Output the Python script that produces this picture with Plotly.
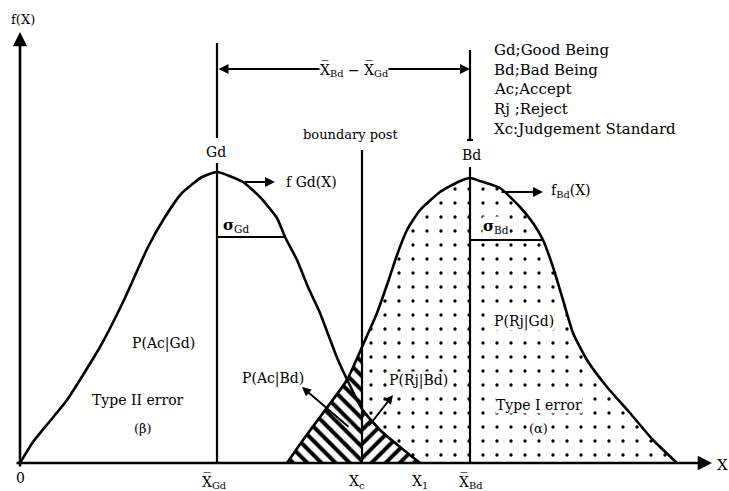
import plotly.graph_objects as go

# Key positions on the X axis
x_gd_mean = 19.7   # mean of the good population
x_bd_mean = 45.0   # mean of the bad population
x_c = 34.2         # judgement standard (boundary post)
x_1 = 40.0

# Density curve of the good population f_Gd(X)
gd_x = [0, 1.3, 3.0, 4.7, 8.0, 10.4, 12.8, 14.5, 16.2, 18.2, 19.7, 22.3, 24.0,
        25.7, 26.5, 27.7, 28.8, 30.0, 31.8, 34.2, 36.0, 38.0, 40.0]
gd_f = [0, 0.21, 0.42, 0.63, 1.16, 1.63, 2.16, 2.46, 2.70, 2.86, 2.91, 2.81, 2.66,
        2.45, 2.26, 2.03, 1.76, 1.50, 1.03, 0.54, 0.33, 0.16, 0]

# Density curve of the bad population f_Bd(X)
bd_x = [26.7, 28.3, 30.3, 32.7, 34.2, 35.7, 36.8, 37.7, 38.7, 40.0, 42.0, 43.8, 45.0,
        46.0, 48.0, 50.0, 51.3, 52.3, 53.3, 54.3, 55.3, 56.7, 58.7, 61.0, 63.3, 65.7]
bd_f = [0, 0.23, 0.50, 0.83, 1.16, 1.50, 1.81, 2.08, 2.33, 2.53, 2.71, 2.81, 2.85,
        2.82, 2.75, 2.56, 2.40, 2.23, 1.96, 1.63, 1.30, 1.03, 0.76, 0.50, 0.23, 0]

# Standard deviations (drawn as horizontal bars from each mean)
sigma_gd = 6.8
sigma_bd = 7.3

FONT = "DejaVu Serif"
INK = "black"
SMOOTH = 0.5


def part(xs, ys, keep):
    pts = [(a, b) for a, b in zip(xs, ys) if keep(a)]
    return [p[0] for p in pts], [p[1] for p in pts]


bd_rx, bd_rf = part(bd_x, bd_f, lambda v: v >= x_c)
bd_lx, bd_lf = part(bd_x, bd_f, lambda v: v <= x_c)
gd_rx, gd_rf = part(gd_x, gd_f, lambda v: v >= x_c)

fig = go.Figure()


def filled(xs, ys, shape, size, solidity):
    fig.add_trace(go.Scatter(
        x=xs, y=ys, mode="lines",
        line=dict(width=0, shape="spline", smoothing=SMOOTH),
        fill="tozeroy", fillcolor="white",
        fillpattern=dict(shape=shape, fgcolor=INK, fgopacity=1, bgcolor="white",
                         fillmode="replace", size=size, solidity=solidity),
        hoverinfo="skip", showlegend=False))


# Stippled area: bad population rejected
filled(bd_rx, bd_rf, ".", 14, 0.045)
# Hatched overlap: left of Xc under f_Bd, right of Xc under f_Gd
filled(bd_lx, bd_lf, "\\", 10, 0.4)
filled(gd_rx, gd_rf, "/", 10, 0.4)

# The two density curves
for xs, ys in ((gd_x, gd_f), (bd_x, bd_f)):
    fig.add_trace(go.Scatter(
        x=xs, y=ys, mode="lines",
        line=dict(color=INK, width=2.6, shape="spline", smoothing=SMOOTH),
        hoverinfo="skip", showlegend=False))

gd_sig_f = gd_f[gd_x.index(round(x_gd_mean + sigma_gd, 1))]
bd_sig_f = bd_f[bd_x.index(round(x_bd_mean + sigma_bd, 1))]

dim_y = 3.94
shapes = [
    # mean lines, below and above the curve labels
    dict(x0=x_gd_mean, x1=x_gd_mean, y0=0, y1=3.0),
    dict(x0=x_gd_mean, x1=x_gd_mean, y0=3.25, y1=4.20),
    dict(x0=x_bd_mean, x1=x_bd_mean, y0=0, y1=2.96),
    dict(x0=x_bd_mean, x1=x_bd_mean, y0=3.23, y1=4.13),
    dict(x0=x_bd_mean - 0.3, x1=x_bd_mean + 0.3, y0=3.23, y1=3.23),
    # boundary post at Xc
    dict(x0=x_c, x1=x_c, y0=0, y1=3.13),
    # sigma bars
    dict(x0=x_gd_mean, x1=x_gd_mean + sigma_gd, y0=gd_sig_f, y1=gd_sig_f),
    dict(x0=x_bd_mean, x1=x_bd_mean + sigma_bd, y0=bd_sig_f, y1=bd_sig_f),
]
for s in shapes:
    fig.add_shape(type="line", xref="x", yref="y", line=dict(color=INK, width=2.2), **s)


def arrow(x_head, y_head, x_tail, y_tail, width=2, side="end", size=1.0):
    fig.add_annotation(x=x_head, y=y_head, ax=x_tail, ay=y_tail, xref="x", yref="y",
                       axref="x", ayref="y", text="", showarrow=True, arrowhead=2,
                       arrowsize=size, arrowwidth=width, arrowcolor=INK, arrowside=side)


def label(x, y, text, size=14, xanchor="center", yanchor="middle", bg=None):
    fig.add_annotation(x=x, y=y, xref="x", yref="y", text=text, showarrow=False,
                       xanchor=xanchor, yanchor=yanchor,
                       font=dict(family=FONT, size=size, color=INK),
                       bgcolor=bg, borderpad=0)


# Axes with arrowheads
arrow(69.2, 0, -0.5, 0, width=2.6, size=1.1)
arrow(0, 4.31, 0, -0.05, width=2.6, size=1.1)

# Distance between the means
arrow(x_bd_mean, dim_y, x_gd_mean, dim_y, width=2, side="end+start", size=1.0)
label(33.4, dim_y, "X\u0305<sub>Bd</sub> \u2212 X\u0305<sub>Gd</sub>", size=14, bg="white")

# Curve name arrows
arrow(25.5, 2.81, 22.3, 2.81, width=2)
label(26.5, 2.81, "f Gd(X)", xanchor="left")
arrow(52.3, 2.71, 48.0, 2.71, width=2)
label(53.0, 2.72, "f<sub>Bd</sub>(X)", xanchor="left")

# Texts
label(0.3, 4.44, "f(X)", size=13, xanchor="center")
label(x_gd_mean - 0.1, 3.11, "Gd")
label(x_bd_mean + 0.1, 3.08, "Bd")
label(33.0, 3.29, "boundary post", size=13)
label(20.2, 2.38, "<b>σ</b><sub>Gd</sub>", size=15, xanchor="left")
label(46.2, 2.37, "<b>σ</b><sub>Bd</sub>", size=15, xanchor="left", bg="white")
label(14.3, 1.20, "P(Ac|Gd)")
label(11.8, 0.63, "Type II error")
label(12.3, 0.35, "(β)", size=13)
label(25.3, 0.85, "P(Ac|Bd)")
label(39.8, 0.83, "P(Rj|Bd)", bg="white")
label(50.4, 1.42, "P(Rj|Gd)", bg="white")
label(51.9, 0.58, "Type I error", bg="white")
label(51.8, 0.35, "(α)", size=13, bg="white")

# Region pointers
arrow(28.2, 0.76, 33.0, 0.35, width=1.8)
arrow(37.3, 0.68, 34.8, 0.36, width=1.8)

# Key
key_lines = ["Gd;Good Being", "Bd;Bad Being", "Ac;Accept", "Rj ;Reject",
             "Xc:Judgement Standard"]
for i, t in enumerate(key_lines):
    label(47.3, 4.13 - 0.197 * i, t, size=15, xanchor="left")

# Tick labels on the X axis
label(0, -0.15, "0")
label(x_gd_mean - 0.3, -0.18, "X\u0305<sub>Gd</sub>")
label(x_c - 0.5, -0.19, "X<sub>c</sub>")
label(x_1, -0.19, "X<sub>1</sub>")
label(x_bd_mean, -0.18, "X\u0305<sub>Bd</sub>")
label(70.2, -0.02, "X", size=15)

fig.update_layout(
    width=729, height=491, margin=dict(l=0, r=0, t=0, b=0),
    paper_bgcolor="white", plot_bgcolor="white",
    xaxis=dict(range=[-2, 70.9], visible=False, fixedrange=True),
    yaxis=dict(range=[-0.28, 4.63], visible=False, fixedrange=True),
    showlegend=False,
)

fig.write_html("out.html")
